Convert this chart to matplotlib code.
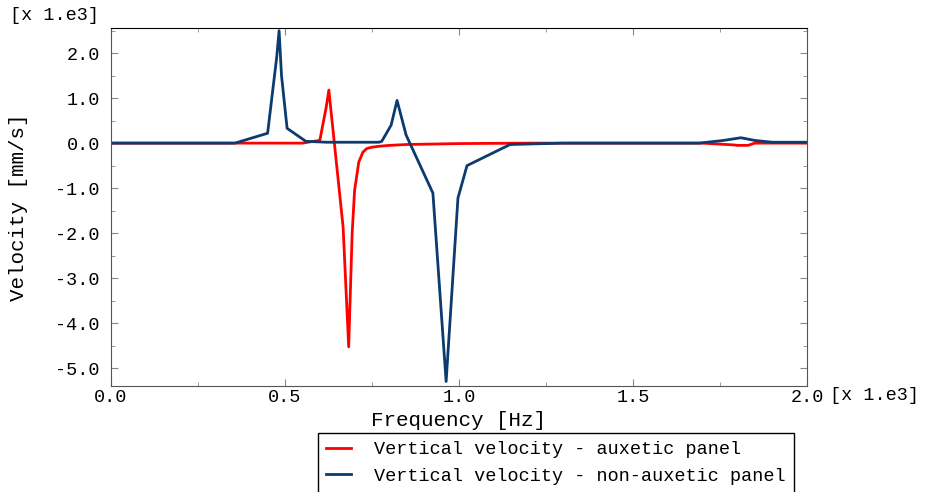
import numpy as np
import matplotlib
matplotlib.use("Agg")
import matplotlib.pyplot as plt
from matplotlib.ticker import MultipleLocator

# frequency in Hz, velocity in mm/s
f_aux = [0, 550, 590, 600, 618, 626, 667, 683, 693, 700, 712, 724,
         735, 750, 770, 800, 850, 1000, 1200, 1700, 1790, 1800, 1830, 1850, 2000]
v_aux = [0, 0, 50, 60, 780, 1180, -1870, -4530, -2000, -1050, -420,
         -200, -120, -90, -70, -50, -30, -10, 0, 0, -40, -50, -50, 0, 0]

f_non = [0, 356, 450, 476, 483, 490, 506, 560, 620, 770, 778, 805, 822,
         848, 925, 963, 997, 1023, 1147, 1300, 1690, 1760, 1810, 1850, 1900, 2000]
v_non = [0, 0, 220, 1900, 2500, 1500, 330, 40, 20, 20, 40, 400, 950,
         180, -1110, -5300, -1220, -500, -30, 0, 0, 60, 120, 60, 20, 20]

lab_aux = "Vertical velocity - auxetic panel"
lab_non = "Vertical velocity - non-auxetic panel"

plt.rcParams["font.family"] = ["Liberation Mono", "DejaVu Sans Mono"]
plt.rcParams["font.size"] = 13.3

fig = plt.figure(figsize=(9.28, 4.92), dpi=100)
ax = fig.add_axes([111/928, 1 - 386/492, (807-111)/928, (386-28)/492])

ax.plot(np.array(f_aux)/1e3, np.array(v_aux)/1e3, color="#ff0000", lw=2, label=lab_aux)
ax.plot(np.array(f_non)/1e3, np.array(v_non)/1e3, color="#0b3b6f", lw=2, label=lab_non)

ax.set_xlim(0, 2.0)
ax.set_ylim(-5.4, 2.56)
ax.xaxis.set_major_locator(MultipleLocator(0.5))
ax.xaxis.set_minor_locator(MultipleLocator(0.25))
ax.yaxis.set_major_locator(MultipleLocator(1.0))
ax.yaxis.set_minor_locator(MultipleLocator(0.5))
ax.xaxis.set_major_formatter(lambda v, p: f"{v:.1f}")
ax.yaxis.set_major_formatter(lambda v, p: f"{v:.1f}")
ax.tick_params(which="both", direction="in", top=True, right=True, color="#888888")
ax.tick_params(which="major", length=5)
ax.tick_params(which="minor", length=3)
ax.tick_params(axis="y", which="major", pad=8)
ax.tick_params(axis="x", which="major", pad=2)
for s in ["left", "bottom", "right"]:
    ax.spines[s].set_color("#555555")

ax.set_xlabel("Frequency [Hz]", fontsize=15)
ax.set_ylabel("Velocity [mm/s]", fontsize=15)
ax.xaxis.set_label_coords(0.5, -(421 - 386) / 358, transform=ax.transAxes)
ax.xaxis.label.set_va("center")
ax.yaxis.set_label_coords(-(111 - 18) / 696, 0.5, transform=ax.transAxes)
ax.yaxis.label.set_va("center")
fig.text(10/928, 1 - 15/492, "[x 1.e3]", ha="left", va="center")
fig.text(830/928, 1 - 396/492, "[x 1.e3]", ha="left", va="center")

leg = fig.legend(loc="lower left", bbox_to_anchor=(318/928, -0.002), frameon=True,
                 fancybox=False, edgecolor="black", framealpha=1, borderaxespad=0,
                 handlelength=1.35, handletextpad=1.25, borderpad=0.45,
                 labelspacing=0.5)
leg.get_frame().set_linewidth(1.0)

fig.savefig("out.png", dpi=100)
